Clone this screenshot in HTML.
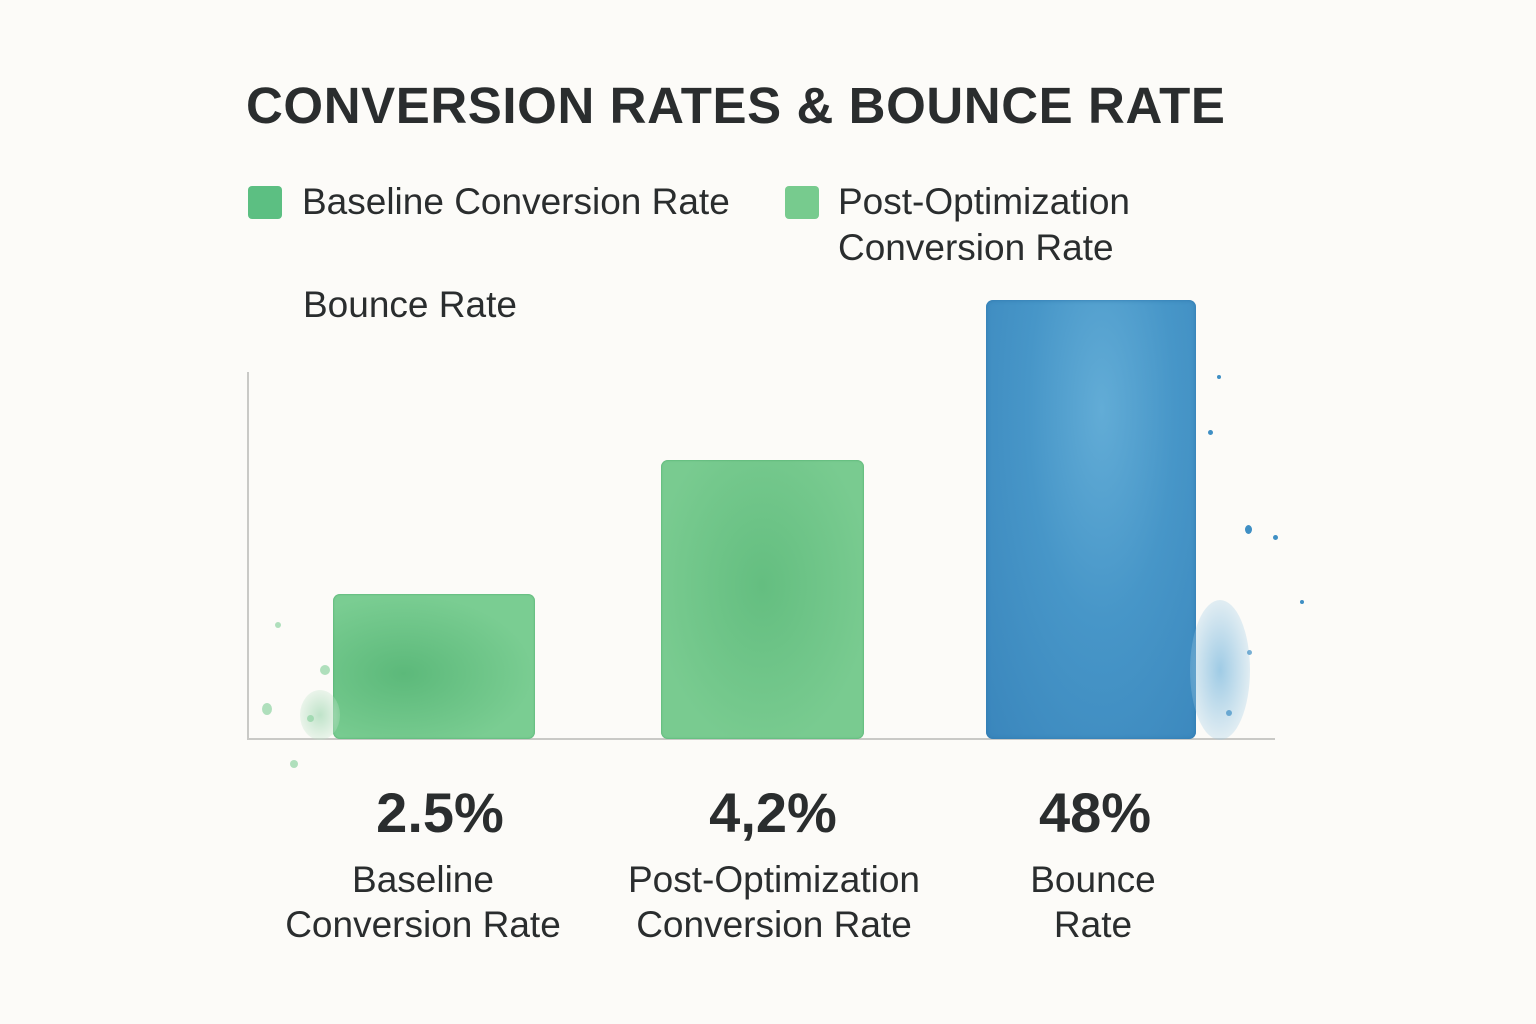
<!DOCTYPE html>
<html><head><meta charset="utf-8"><style>
html,body{margin:0;padding:0}
body{width:1536px;height:1024px;background:#fcfbf8;position:relative;overflow:hidden;font-family:"Liberation Sans",sans-serif;color:#2a2d2e}
.a{position:absolute;white-space:nowrap}
.title{left:246px;top:76px;font-size:51px;font-weight:bold;letter-spacing:0.6px}
.leg{font-size:37px;line-height:46px}
.sq{position:absolute;width:34px;height:33px;border-radius:4px}
.bar{position:absolute;border-radius:7px}
.val{font-size:56px;font-weight:bold;text-align:center;width:400px}
.lab{font-size:37px;line-height:45px;text-align:center;width:400px}
.dot{position:absolute;border-radius:50%;background:#3f8fc4}
.g{position:absolute;border-radius:50%;background:#8fd3a3;opacity:.7}
</style></head><body>
<div class="a title">CONVERSION RATES &amp; BOUNCE RATE</div>
<div class="sq" style="left:248px;top:186px;background:#5cbf82"></div>
<div class="a leg" style="left:302px;top:179px">Baseline Conversion Rate</div>
<div class="sq" style="left:785px;top:186px;background:#77cb8e"></div>
<div class="a leg" style="left:838px;top:179px">Post-Optimization<br>Conversion Rate</div>
<div class="a leg" style="left:303px;top:282px">Bounce Rate</div>
<div class="a" style="left:247px;top:372px;width:2px;height:368px;background:#c9c9c6"></div>
<div class="a" style="left:247px;top:738px;width:1028px;height:2px;background:#c9c9c6"></div>
<div class="bar" style="left:333px;top:594px;width:202px;height:145px;background:radial-gradient(ellipse at 35% 55%,#5cb97a,#7acd92 70%);box-shadow:inset 0 0 2px #4aa868"></div>
<div class="bar" style="left:661px;top:460px;width:203px;height:279px;background:radial-gradient(ellipse at 50% 45%,#64be80,#79cb90 75%);box-shadow:inset 0 0 2px #4aa868"></div>
<div class="bar" style="left:986px;top:300px;width:210px;height:439px;background:radial-gradient(ellipse at 55% 25%,#62acd6 0%,#4796c8 45%,#3a86bc 100%);box-shadow:inset 0 0 4px #2f78ae"></div>
<div style="position:absolute;left:1190px;top:600px;width:60px;height:140px;border-radius:50%;background:radial-gradient(#9fcbe5,rgba(252,251,248,0))"></div>
<div class="dot" style="left:1245px;top:525px;width:7px;height:9px"></div>
<div class="dot" style="left:1208px;top:430px;width:5px;height:5px"></div>
<div class="dot" style="left:1217px;top:375px;width:4px;height:4px"></div>
<div class="dot" style="left:1273px;top:535px;width:5px;height:5px"></div>
<div class="dot" style="left:1226px;top:710px;width:6px;height:6px;opacity:.7"></div>
<div class="dot" style="left:1247px;top:650px;width:5px;height:5px;opacity:.7"></div>
<div class="dot" style="left:1300px;top:600px;width:4px;height:4px"></div>
<div style="position:absolute;left:300px;top:690px;width:40px;height:50px;border-radius:50%;background:radial-gradient(#bfe3c9,rgba(252,251,248,0))"></div>
<div class="g" style="left:262px;top:703px;width:10px;height:12px"></div>
<div class="g" style="left:307px;top:715px;width:7px;height:7px"></div>
<div class="g" style="left:320px;top:665px;width:10px;height:10px"></div>
<div class="g" style="left:290px;top:760px;width:8px;height:8px"></div>
<div class="g" style="left:275px;top:622px;width:6px;height:6px"></div>
<div class="a val" style="left:240px;top:780px">2.5%</div>
<div class="a val" style="left:573px;top:780px">4,2%</div>
<div class="a val" style="left:895px;top:780px">48%</div>
<div class="a lab" style="left:223px;top:857px">Baseline<br>Conversion Rate</div>
<div class="a lab" style="left:574px;top:857px">Post-Optimization<br>Conversion Rate</div>
<div class="a lab" style="left:893px;top:857px">Bounce<br>Rate</div>
</body></html>
